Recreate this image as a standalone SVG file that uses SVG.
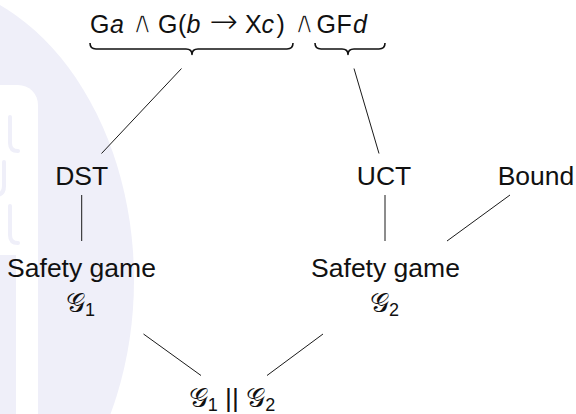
<svg xmlns="http://www.w3.org/2000/svg" width="576" height="414" viewBox="0 0 576 414">
  <style>
    .lbl { font-family: "Liberation Sans", "DejaVu Sans", sans-serif; font-size: 26.5px; fill: #111; text-anchor: middle; }
    .fml { font-family: "Liberation Sans", "DejaVu Sans", sans-serif; font-size: 25px; fill: #111; }
    .sym { font-family: "DejaVu Sans", sans-serif; font-size: 31px; stroke: #ffffff; stroke-width: 1.4; }
    .arr { font-family: "DejaVu Sans", sans-serif; font-weight: 200; font-size: 34px; }
    .it { font-style: italic; }
    .cal { font-family: "DejaVu Serif", "Noto Sans", serif; }
    .sub { font-size: 18px; }
    .edge { stroke: #1a1a1a; stroke-width: 1; fill: none; }
    .brace { stroke: #111; stroke-width: 1.6; fill: none; stroke-linejoin: round; }
    .wm { fill: #efeff9; }
    .wm-stroke { stroke: #efeff9; stroke-width: 4; fill: none; stroke-linecap: round; }
  </style>

  <rect width="576" height="414" fill="#ffffff"/>

  <!-- faint background emblem -->
  <g id="emblem">
    <ellipse class="wm" cx="-89" cy="280" rx="223" ry="300"/>
    <rect x="-30" y="85" width="68" height="360" rx="20" fill="#ffffff"/>
    <path class="wm-stroke" d="M10,117 V143 Q10,151 18,151"/>
    <path class="wm-stroke" d="M4,162 V186 Q4,195 -4,195"/>
    <path class="wm-stroke" d="M10,206 V235 Q10,243 18,243"/>
    <rect class="wm" x="0" y="255" width="16" height="159"/>
  </g>

  <!-- formula with underbraces -->
  <g id="formula">
    <text class="fml" y="33">
      <tspan x="90">G</tspan><tspan x="110" class="it">a</tspan>
      <tspan x="131" class="sym">∧</tspan>
      <tspan x="158">G</tspan><tspan x="178">(</tspan><tspan x="186.5" class="it">b</tspan>
      <tspan x="209.5" class="arr">→</tspan>
      <tspan x="245">X</tspan><tspan x="261.5" class="it">c</tspan><tspan x="276.5">)</tspan>
      <tspan x="293" class="sym">∧</tspan>
      <tspan x="316.5">G</tspan><tspan x="336.5">F</tspan><tspan x="353" class="it">d</tspan>
    </text>
    <path class="brace" d="M90,43 Q90,49 96,49 L186,49 Q192,49 192,54.5 Q192,49 198,49 L287,49 Q293,49 293,43"/>
    <path class="brace" d="M315,43 Q315,49 321,49 L342,49 Q348,49 348,54.5 Q348,49 354,49 L379,49 Q385,49 385,43"/>
  </g>

  <g id="dst"><text class="lbl" x="81.7" y="185">DST</text></g>
  <g id="uct"><text class="lbl" x="384" y="185">UCT</text></g>
  <g id="bound"><text class="lbl" x="536" y="185">Bound</text></g>

  <g id="game1">
    <text class="lbl" x="81.5" y="277">Safety game</text>
    <text class="lbl" x="80.5" y="312"><tspan class="cal">𝒢</tspan><tspan class="sub" dy="4">1</tspan></text>
  </g>
  <g id="game2">
    <text class="lbl" x="385.5" y="277">Safety game</text>
    <text class="lbl" x="384.5" y="312"><tspan class="cal">𝒢</tspan><tspan class="sub" dy="4">2</tspan></text>
  </g>

  <g id="product">
    <text class="lbl" x="232" y="407"><tspan class="cal">𝒢</tspan><tspan class="sub" dy="4">1</tspan><tspan dy="-4"> || </tspan><tspan class="cal">𝒢</tspan><tspan class="sub" dy="4">2</tspan></text>
  </g>

  <g id="connectors">
    <line class="edge" x1="181.5" y1="68.5" x2="101.5" y2="153.5"/>
    <line class="edge" x1="354" y1="68.5" x2="379" y2="153.5"/>
    <line class="edge" x1="81.7" y1="195" x2="81.7" y2="241"/>
    <line class="edge" x1="385" y1="195" x2="385" y2="241"/>
    <line class="edge" x1="510" y1="195" x2="447" y2="241"/>
    <line class="edge" x1="143.5" y1="334" x2="201" y2="375.5"/>
    <line class="edge" x1="323" y1="334" x2="267" y2="375.5"/>
  </g>
</svg>
